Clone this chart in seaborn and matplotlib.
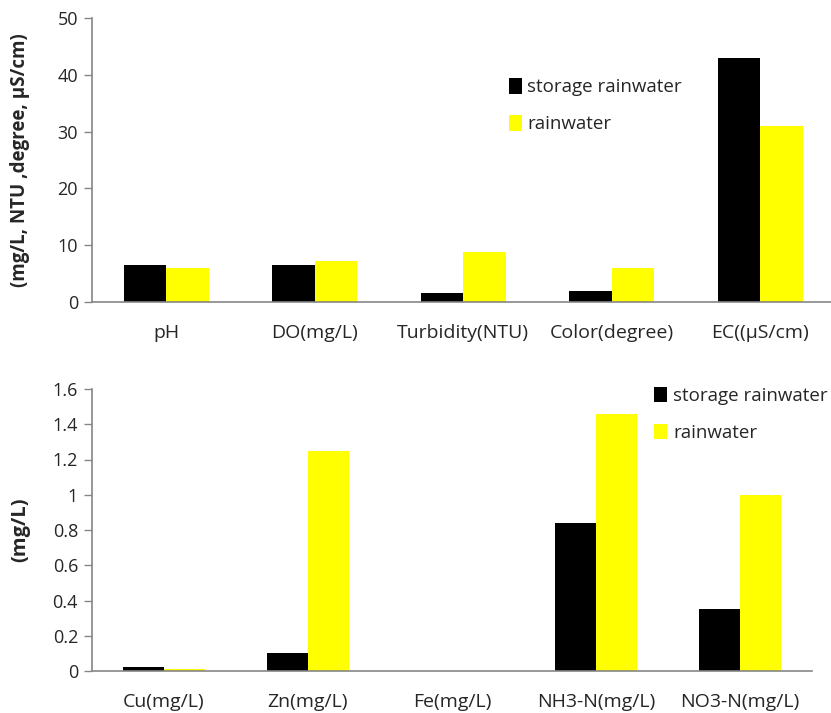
import matplotlib
matplotlib.use("Agg")
import matplotlib.pyplot as plt
from matplotlib.patches import Patch
import seaborn as sns
import pandas as pd

# Physical parameters (upper panel)
phys_params = ["pH", "DO(mg/L)", "Turbidity(NTU)", "Color(degree)", "EC((\u03bcS/cm)"]
phys_storage = [6.6, 6.6, 1.5, 1.9, 43.0]
phys_rain = [6.0, 7.2, 8.8, 5.9, 31.0]

# Metals and nitrogen (lower panel)
chem_params = ["Cu(mg/L)", "Zn(mg/L)", "Fe(mg/L)", "NH3-N(mg/L)", "NO3-N(mg/L)"]
chem_storage = [0.02, 0.10, 0.0, 0.84, 0.35]
chem_rain = [0.01, 1.25, 0.0, 1.46, 1.00]

series_names = ["storage rainwater", "rainwater"]
series_colors = ["#000000", "#FFFF00"]

sns.set_theme(style="white")
plt.rcParams["font.family"] = ["Open Sans", "DejaVu Sans"]

TEXT = "#262626"
SPINE = "#868686"


def long_form(params, a, b):
    return pd.DataFrame({
        "param": params * 2,
        "value": list(a) + list(b),
        "series": [series_names[0]] * len(params) + [series_names[1]] * len(params),
    })


def draw_panel(ax, params, a, b, ylim, yticks, yticklabels, ylabel, ylabel_size,
               ylabel_x, legend_anchor):
    df = long_form(params, a, b)
    sns.barplot(data=df, x="param", y="value", hue="series", order=params,
                hue_order=series_names, palette=series_colors, width=0.57,
                gap=0, linewidth=0, saturation=1, ax=ax, legend=False)
    ax.set_xlim(-0.5, len(params) - 0.5)
    ax.set_ylim(*ylim)
    ax.set_yticks(yticks)
    ax.set_yticklabels(yticklabels, fontsize=13, color=TEXT)
    ax.set_xticks(range(len(params)))
    ax.set_xticklabels(params, fontsize=14, color=TEXT)
    ax.set_xticks([i - 0.5 for i in range(len(params) + 1)], minor=True)
    ax.tick_params(axis="x", which="major", length=0, pad=15.5)
    ax.tick_params(axis="x", which="minor", length=6, width=1, color=SPINE, direction="out")
    ax.tick_params(axis="y", length=6, width=1, color=SPINE, direction="out", pad=4, left=True)
    ax.set_xlabel("")
    ax.set_ylabel(ylabel, fontsize=ylabel_size, fontweight="bold", color=TEXT)
    ax.yaxis.set_label_coords(ylabel_x, 0.5)
    for side in ("top", "right"):
        ax.spines[side].set_visible(False)
    for side in ("left", "bottom"):
        ax.spines[side].set_color(SPINE)
        ax.spines[side].set_linewidth(1.2)
    handles = [Patch(facecolor=c, edgecolor="none", label=n)
               for c, n in zip(series_colors, series_names)]
    ax.legend(handles=handles, loc="upper left", bbox_to_anchor=legend_anchor,
              frameon=False, fontsize=13.5, handlelength=0.7, handleheight=0.9,
              handletextpad=0.3, labelspacing=1.0, borderaxespad=0,
              labelcolor=TEXT)


fig = plt.figure(figsize=(8.31, 7.13), dpi=100)
ax_top = fig.add_axes([92 / 831, 411 / 713, 742.5 / 831, 284 / 713])
ax_bot = fig.add_axes([92 / 831, 42 / 713, 720 / 831, 282 / 713])

draw_panel(ax_top, phys_params, phys_storage, phys_rain, (0, 50),
           [0, 10, 20, 30, 40, 50], ["0", "10", "20", "30", "40", "50"],
           "(mg/L, NTU ,degree, \u03bcS/cm)", 13.5, -62 / 742.5, (0.551, 0.815))
draw_panel(ax_bot, chem_params, chem_storage, chem_rain, (0, 1.6),
           [0, 0.2, 0.4, 0.6, 0.8, 1.0, 1.2, 1.4, 1.6],
           ["0", "0.2", "0.4", "0.6", "0.8", "1", "1.2", "1.4", "1.6"],
           "(mg/L)", 14.5, -62 / 720, (0.7705, 1.035))

fig.savefig("out.png", dpi=100)
